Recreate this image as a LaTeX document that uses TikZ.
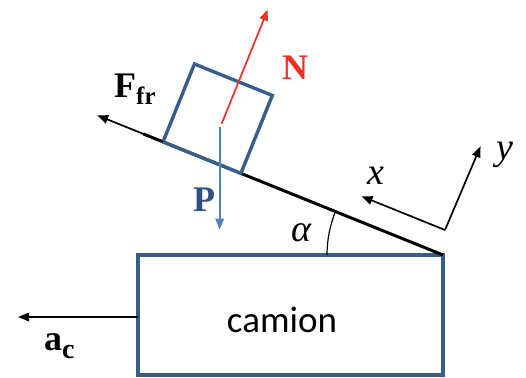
\documentclass[tikz,border=0pt]{standalone}
\usepackage{fontspec}
\setmainfont{Liberation Serif}
\newfontfamily\calib{Carlito}
\usetikzlibrary{arrows.meta,calc}
\definecolor{boxblue}{HTML}{385D8A}
\definecolor{pblue}{HTML}{4F81BD}
\definecolor{plabel}{HTML}{2F4E85}
\definecolor{nred}{HTML}{EE3124}
\begin{document}
\begin{tikzpicture}[x=1pt,y=1pt,
  vec/.style={-{Triangle[length=11pt,width=8.5pt]}, line width=1.7pt},
  boxline/.style={draw=boxblue, line width=3.4pt, inner sep=0, outer sep=0},
  lab/.style={font=\fontsize{36}{36}\selectfont\bfseries, inner sep=0, anchor=base west},
  ilab/.style={font=\fontsize{38}{38}\selectfont\itshape, inner sep=0, anchor=base west}]
\useasboundingbox (0,0) rectangle (526,377);
% truck
\node[boxline, minimum width=305, minimum height=120] (truck) at (290.5,62) {};
\node[font=\calib\fontsize{37}{37}\selectfont] (cam) at (282,57) {camion};
\coordinate (C) at (443,122);
% incline
\draw[line width=3pt] (C) -- ++(158:323) coordinate (inc);
% block
\node[boxline, minimum size=84, rotate=-22, anchor=south west] (blk) at ($(C)+(158:302)$) {};
% forces
\coordinate (Ns) at ($(blk.center)+(4,-5)$);
\coordinate (Ps) at ($(blk.center)+(2,-8)$);
\draw[vec, draw=nred, nred] (Ns) -- ++(68:123) coordinate (Ne);
\draw[vec, draw=pblue, pblue] (Ps) -- ++(0,-103) coordinate (Pe);
\draw[vec] (blk.south west) -- ++(158:71) coordinate (Fe);
% axes
\coordinate (O) at (445,147);
\draw[vec] (O) -- ++(158:90) coordinate (xe);
\draw[vec] (O) -- ++(67:91) coordinate (ye);
% angle
\draw[line width=1.2pt] ($(C)+(-116,0)$) arc[start angle=180, end angle=158, radius=116];
% truck acceleration
\coordinate (ae) at (18,60);
\draw[vec] (truck.west |- ae) -- (ae);
% labels
\node[lab, text=nred] (nl) at (282,297) {N};
\node[lab] (fl) at (114,279) {F\raisebox{-7pt}{\fontsize{25}{25}\selectfont fr}};
\node[lab, text=plabel] (pl) at (193,165) {P};
\node[lab] (al) at (44,27) {a\raisebox{-8pt}{\fontsize{28}{28}\selectfont c}};
\node[ilab] (xl) at (367,192) {x};
\node[ilab] (yl) at (496,217) {y};
\node[ilab] (alpha) at (291,135) {α};
\end{tikzpicture}
\end{document}
